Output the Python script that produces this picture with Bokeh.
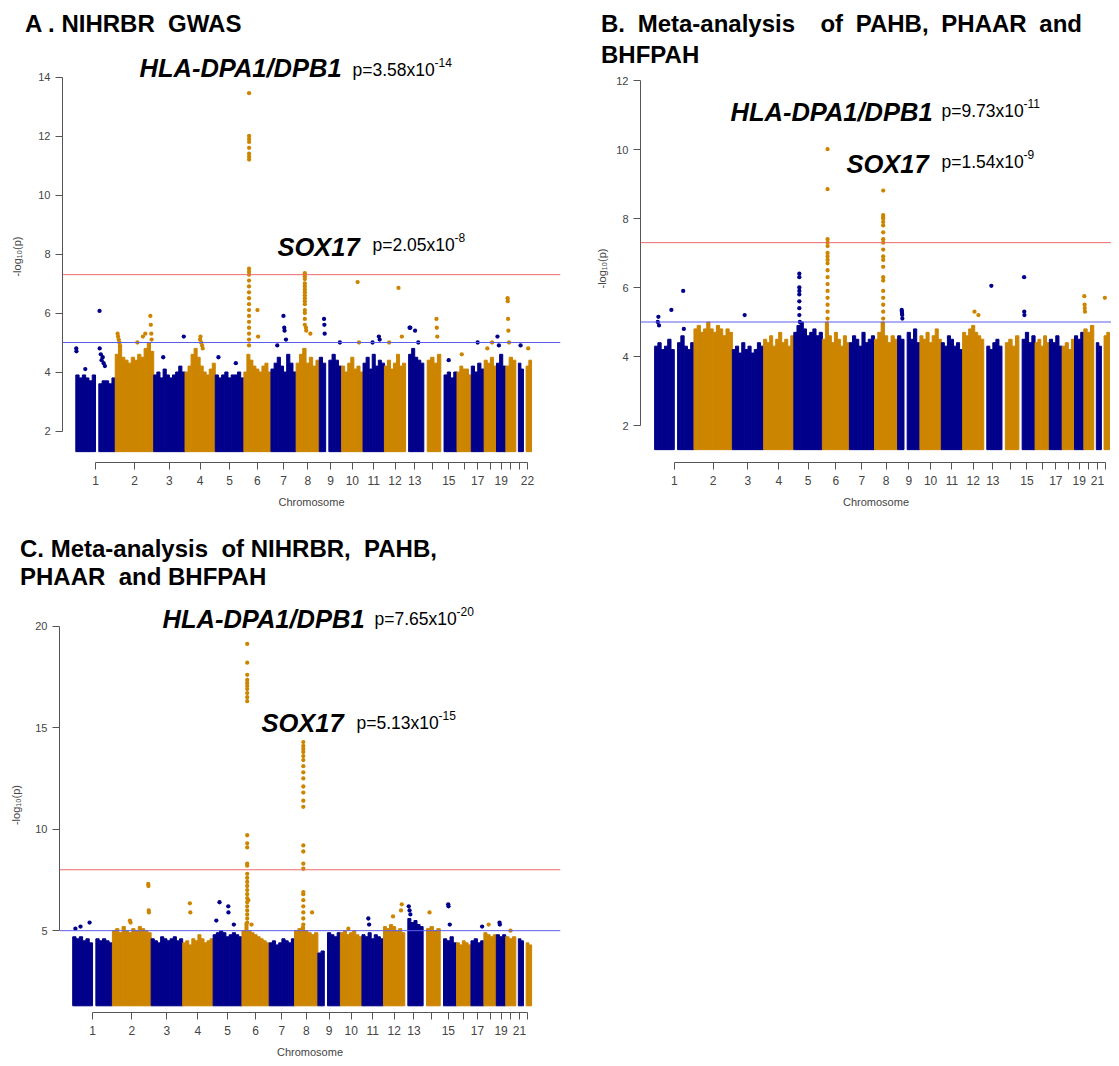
import numpy as np
from bokeh.plotting import figure
from bokeh.models import Span, Label, FixedTicker, ColumnDataSource, Div
from bokeh.layouts import row, column
from bokeh.embed import file_html
from bokeh.resources import INLINE

# ---------------- data ----------------
chrom_len_mb = [249.25, 243.2, 198.0, 191.15, 180.9, 171.1, 159.1, 146.4, 141.2, 135.5, 135.0,
                133.85, 115.2, 107.35, 102.5, 90.35, 81.2, 78.1, 59.1, 63.0, 48.1, 51.3]
tick_labels_a = ["1", "2", "3", "4", "5", "6", "7", "8", "9", "10", "11", "12", "13", "", "15", "",
                 "17", "", "19", "", "", "22"]
tick_labels_bc = ["1", "2", "3", "4", "5", "6", "7", "8", "9", "10", "11", "12", "13", "", "15", "",
                  "17", "", "19", "", "21", ""]
p_floor = 1.3          # -log10(0.05): lowest plotted value
suggestive_line = 5.0
gw_line_ab = 7.3
gw_line_c = 8.0
chrom_colors = ["#00008B", "#CD8500"]

# upper edge of the dense cloud of points along each chromosome (0 = no SNPs)
env_a = [
    [3.9, 3.8, 3.9, 3.8, 3.7, 3.9, 0, 3.6, 3.7, 3.7, 3.6, 3.8],
    [4.6, 4.9, 4.5, 4.4, 4.3, 4.5, 4.4, 4.6, 4.5, 4.8, 5.0, 4.7],
    [3.9, 4.0, 3.8, 4.1, 3.9, 3.8, 3.9, 4.0, 4.2, 4.0],
    [4.0, 4.2, 4.6, 4.8, 4.5, 4.2, 4.0, 3.9, 4.1, 4.3],
    [3.9, 3.8, 3.9, 4.0, 3.8, 3.9, 3.9, 4.0, 3.8],
    [4.0, 4.6, 4.4, 4.2, 4.1, 4.0, 4.2, 4.3, 4.0],
    [4.1, 4.3, 4.5, 4.2, 4.0, 4.6, 4.3, 4.0],
    [4.3, 4.6, 4.8, 4.3, 4.5, 4.2, 4.4],
    [4.5, 4.3, 0, 4.4, 4.6, 4.4, 4.2],
    [4.2, 4.0, 4.3, 4.5, 4.1, 4.2, 4.0],
    [4.3, 4.5, 4.1, 4.6, 4.2, 4.4, 4.3],
    [4.2, 4.4, 4.1, 4.3, 4.6, 4.2, 4.3],
    [0, 4.6, 4.8, 4.5, 4.4, 4.3],
    [0, 4.4, 4.5, 4.3, 4.6],
    [0, 3.9, 4.0, 3.8, 4.0],
    [4.0, 4.2, 4.1, 4.1, 3.9],
    [4.2, 4.0, 4.3, 4.1],
    [4.4, 4.3, 4.5, 4.2],
    [4.3, 4.6, 4.2],
    [4.2, 4.5, 4.4],
    [0, 4.3, 4.1],
    [0, 4.2, 4.4],
]
env_b = [
    [4.3, 4.4, 4.2, 4.3, 4.5, 4.2, 0, 4.4, 4.6, 4.3, 4.2, 4.4],
    [4.8, 4.9, 4.7, 4.8, 5.0, 4.8, 4.7, 4.9, 4.8, 4.6, 4.8, 4.7],
    [4.2, 4.3, 4.1, 4.4, 4.2, 4.3, 4.1, 4.2, 4.4, 4.3],
    [4.5, 4.4, 4.6, 4.3, 4.5, 4.7, 4.4, 4.5, 4.3, 4.6],
    [4.7, 4.9, 5.0, 4.8, 4.6, 4.7, 4.8, 4.6, 4.7],
    [4.5, 5.0, 4.6, 4.4, 4.7, 4.5, 4.3, 4.6, 4.4],
    [4.4, 4.6, 4.5, 4.3, 4.7, 4.4, 4.5, 4.6],
    [4.5, 4.7, 5.0, 4.6, 4.4, 4.6, 4.5],
    [4.6, 4.5, 0, 4.7, 4.5, 4.8, 4.4],
    [4.6, 4.5, 4.7, 4.4, 4.6, 4.8, 4.5],
    [4.4, 4.3, 4.6, 4.5, 4.3, 4.4, 4.2],
    [4.7, 4.6, 4.8, 4.9, 4.7, 4.6, 4.5],
    [0, 4.3, 4.2, 4.4, 4.5, 4.3],
    [0, 4.4, 4.5, 4.3, 4.6],
    [0, 4.5, 4.7, 4.4, 4.6],
    [4.4, 4.5, 4.3, 4.6, 4.4],
    [4.5, 4.4, 4.6, 4.3],
    [4.3, 4.4, 4.2, 4.5],
    [4.6, 4.5, 4.7],
    [4.8, 4.7, 4.9],
    [0, 4.4, 4.3],
    [0, 4.6, 4.7],
]
env_c = [
    [4.7, 4.6, 4.7, 4.5, 4.6, 4.4, 0, 4.6, 4.5, 4.6, 4.5, 4.4],
    [5.0, 5.1, 4.9, 5.2, 5.0, 4.9, 5.1, 5.0, 5.2, 5.1, 5.0, 4.9],
    [4.6, 4.5, 4.4, 4.7, 4.6, 4.5, 4.6, 4.7, 4.5, 4.6],
    [4.4, 4.5, 4.3, 4.6, 4.5, 4.8, 4.6, 4.4, 4.5, 4.6],
    [4.8, 4.9, 5.0, 4.9, 4.7, 4.8, 4.9, 4.8, 4.7],
    [5.0, 5.4, 5.0, 4.9, 4.8, 4.7, 4.6, 4.5, 4.4],
    [4.4, 4.5, 4.3, 4.4, 4.6, 4.5, 4.4, 4.6],
    [5.0, 5.1, 5.2, 5.0, 4.9, 4.8, 4.9],
    [3.9, 4.0, 0, 4.9, 4.8, 4.7, 4.9],
    [4.9, 5.0, 4.8, 4.9, 5.0, 4.8, 4.7],
    [4.8, 4.7, 4.9, 4.6, 4.8, 4.7, 4.6],
    [5.2, 5.1, 5.3, 5.2, 5.0, 5.1, 4.9],
    [0, 5.6, 5.4, 5.5, 5.3, 5.2],
    [0, 5.1, 5.2, 5.0, 5.1],
    [0, 4.6, 4.5, 4.7, 4.4],
    [4.4, 4.3, 4.5, 4.4, 4.3],
    [4.5, 4.6, 4.4, 4.5],
    [4.9, 4.8, 4.7, 4.8],
    [4.8, 4.7, 4.8],
    [4.7, 4.6, 4.7],
    [0, 4.6, 4.5],
    [0, 4.4, 4.3],
]

# individual SNPs standing above the cloud: chromosome, position (Mb), -log10(p)
a_pt_chrom = ([1] * 10 + [2] * 12 + [3] * 2 + [4] * 5 + [5] * 2 + [6] * 25 + [7] * 5 + [8] * 18 +
              [9] * 4 + [10] * 2 + [11] * 3 + [12] * 3 + [13] * 4 + [14] * 3 + [15, 16, 17] +
              [18] * 2 + [19] * 2 + [20] * 5 + [21, 22])
a_pt_pos = ([3, 4, 150, 151, 158, 163, 170, 176, 184, 60] +
            [15, 18, 22, 26, 30, 140, 175, 190, 222, 225, 228, 230] +
            [190, 60] + [95, 98, 102, 108, 112] + [20, 130] +
            [33.0] * 8 + [32.5] * 15 + [86, 90] +
            [79, 84, 86, 95, 40] +
            [55] * 15 + [62, 64, 90] +
            [30, 32, 34, 130] + [101, 110] + [100, 105, 60] + [89, 110, 30] +
            [25, 30, 60, 80] + [80, 82, 85] + [50, 30, 40] + [20, 50] + [6, 15] +
            [11, 12, 14, 16, 20] + [30, 30])
a_pt_val = ([4.8, 4.7, 6.07, 4.8, 4.6, 4.4, 4.5, 4.3, 4.2, 4.1] +
            [5.3, 5.2, 5.1, 5.0, 4.9, 5.0, 5.2, 5.3, 5.9, 5.6, 5.3, 5.1] +
            [5.2, 4.5] + [5.1, 5.2, 5.0, 4.9, 4.8] + [4.5, 4.3] +
            [13.45, 12.0, 11.9, 11.8, 11.6, 11.4, 11.3, 11.2] +
            [7.5, 7.4, 7.3, 7.1, 6.9, 6.7, 6.5, 6.3, 6.1, 5.9, 5.7, 5.5, 5.3, 5.1, 4.9] + [6.1, 5.2] +
            [5.9, 5.5, 5.4, 5.1, 4.9] +
            [7.35, 7.25, 7.15, 7.0, 6.9, 6.8, 6.7, 6.6, 6.5, 6.4, 6.3, 6.1, 6.0, 5.8, 5.6, 5.5, 5.4, 5.3] +
            [5.8, 5.6, 5.3, 5.0] + [7.05, 5.0] + [5.2, 5.1, 5.0] + [6.85, 5.2, 5.0] +
            [5.5, 5.5, 5.4, 5.0] + [5.8, 5.5, 5.2] + [4.4, 4.6, 5.0] + [4.8, 5.0] + [5.2, 4.9] +
            [6.5, 6.4, 5.8, 5.4, 5.0] + [4.9, 4.8])

b_pt_chrom = ([1] * 6 + [3] + [5] * 9 + [6] * 17 + [8] * 20 + [9] * 5 + [12] * 2 + [13] +
              [15] * 3 + [20] * 4 + [22])
b_pt_pos = ([20, 24, 28, 106, 181, 185] + [78] + [35] * 8 + [38] + [33] * 17 + [55] * 20 +
            [26, 27, 28, 29, 30] + [75, 100] + [48] + [33, 34, 35] + [3, 5, 6, 7] + [22])
b_pt_val = ([5.0, 5.15, 4.9, 5.35, 5.9, 4.8] + [5.2] +
            [6.4, 6.3, 6.0, 5.9, 5.8, 5.6, 5.4, 5.2, 5.0] +
            [10.01, 8.85, 7.4, 7.3, 7.2, 7.0, 6.9, 6.8, 6.7, 6.5, 6.3, 6.1, 5.9, 5.7, 5.5, 5.3, 5.1] +
            [8.81, 8.1, 8.05, 8.0, 7.9, 7.8, 7.6, 7.4, 7.3, 7.1, 6.9, 6.8, 6.6, 6.3, 6.2, 5.9, 5.7,
             5.5, 5.3, 5.1] +
            [5.35, 5.3, 5.25, 5.2, 5.1] + [5.3, 5.2] + [6.05] + [6.3, 5.3, 5.2] +
            [5.75, 5.5, 5.4, 5.3] + [5.7])

c_pt_chrom = ([1] * 3 + [2] * 6 + [4] * 2 + [5] * 5 + [6] * 30 + [8] * 25 + [10] + [11] * 2 +
              [12] * 3 + [13] * 3 + [14] + [15] * 3 + [17, 18] + [19] * 2 + [20])
c_pt_pos = ([17, 49, 106] + [110, 114, 225, 226, 228, 229] + [45, 48] + [40, 95, 96, 20, 130] +
            [33] * 28 + [40, 60] + [55] * 24 + [110] + [50] + [40, 45] + [60, 110, 115] +
            [25, 30, 35] + [40] + [50, 52, 60] + [70, 30] + [20, 22] + [30])
c_pt_val = ([5.1, 5.2, 5.4] + [5.5, 5.4, 7.3, 7.2, 6.0, 5.9] + [6.35, 5.9] +
            [6.4, 6.2, 5.9, 5.5, 5.3] +
            [19.12, 18.2, 17.6, 17.35, 17.2, 17.05, 16.9, 16.7, 16.5, 16.3, 9.7, 9.3, 9.1, 8.3, 8.2,
             7.8, 7.6, 7.4, 7.2, 7.0, 6.8, 6.6, 6.4, 6.2, 6.0, 5.8, 5.6, 5.4] + [6.5, 5.3] +
            [14.29, 14.1, 13.95, 13.8, 13.6, 13.4, 13.1, 12.8, 12.5, 12.1, 11.8, 11.4, 11.1, 9.2,
             8.9, 8.3, 8.05, 6.9, 6.8, 6.5, 6.2, 5.9, 5.6, 5.3] + [5.9] +
            [5.1] + [5.6, 5.3] + [5.7, 6.0, 6.3] + [6.2, 6.0, 5.8] + [5.9] + [6.3, 6.2, 5.3] +
            [5.2, 5.3] + [5.4, 5.3] + [5.0])

# ---------------- layout (page pixel geometry, origin = top-left of the page content) ----------------
GEOM_A = dict(fig_x=0, fig_y=48, width=593, height=487, f_left=62, f_right=560, f_top=50, f_bottom=462,
              x0=75.3, kx=0.1582, yref_px=430.5, yref_val=2, ky=29.5)
GEOM_B = dict(fig_x=593, fig_y=72, width=518, height=463, f_left=637, f_right=1111, f_top=74, f_bottom=462,
              x0=651.2, kx=0.1589, yref_px=425, yref_val=2, ky=34.5)
GEOM_C = dict(fig_x=0, fig_y=595, width=593, height=465, f_left=59, f_right=560, f_top=597, f_bottom=1018,
              x0=72.2, kx=0.1593, yref_px=935, yref_val=5, ky=20.6)

FONT = "Liberation Sans"
starts = np.concatenate([[0.0], np.cumsum(chrom_len_mb)[:-1]])
centers = [int(round(s + l / 2)) for s, l in zip(starts, chrom_len_mb)]


def add_text(p, g, text, px, py, size, style="normal", color="#000000"):
    p.add_layout(Label(x=px - g["f_left"], y=g["f_bottom"] - py, x_units="screen", y_units="screen",
                       text=text, text_font=FONT, text_font_size=f"{size}px", text_font_style=style,
                       text_color=color, text_baseline="middle", text_align="left"))


def title_div(lines, w, h, pad_left, pad_top, line_h, word_sp=0):
    html = "<br>".join(lines)
    style = (f"margin:0;padding-left:{pad_left}px;padding-top:{pad_top}px;"
             f"font-family:'{FONT}';font-weight:bold;font-size:24px;line-height:{line_h}px;"
             f"white-space:pre;color:#000;word-spacing:{word_sp}px;")
    return Div(text=f'<div style="{style}">{html}</div>', width=w, height=h, margin=0)


def build_panel(g, env, pt_chrom, pt_pos, pt_val, tick_labels, y_ticks, y_bounds, red_line, label_sb):
    xr = ((g["f_left"] - g["x0"]) / g["kx"], (g["f_right"] - g["x0"]) / g["kx"])
    yr = (g["yref_val"] - (g["f_bottom"] - g["yref_px"]) / g["ky"],
          g["yref_val"] + (g["yref_px"] - g["f_top"]) / g["ky"])
    p = figure(width=g["width"], height=g["height"], x_range=xr, y_range=yr, title=None,
               output_backend="svg", toolbar_location=None,
               min_border_left=g["f_left"] - g["fig_x"],
               min_border_right=g["fig_x"] + g["width"] - g["f_right"],
               min_border_top=g["f_top"] - g["fig_y"],
               min_border_bottom=g["fig_y"] + g["height"] - g["f_bottom"])
    p.outline_line_color = None
    p.xgrid.visible = False
    p.ygrid.visible = False

    L, R, T, C = [], [], [], []
    for ci, (s, ln, tops) in enumerate(zip(starts, chrom_len_mb, env)):
        w = ln / len(tops)
        for i, h in enumerate(tops):
            if h > 0:
                L.append(s + i * w)
                R.append(s + (i + 1) * w)
                T.append(h)
                C.append(chrom_colors[ci % 2])
    src = ColumnDataSource(dict(left=L, right=R, top=T, bottom=[p_floor] * len(L), color=C))
    p.quad(left="left", right="right", top="top", bottom="bottom", fill_color="color",
           line_color="color", line_width=1, source=src)

    px = [starts[c - 1] + pos for c, pos in zip(pt_chrom, pt_pos)]
    pc = [chrom_colors[(c - 1) % 2] for c in pt_chrom]
    psrc = ColumnDataSource(dict(x=px, y=pt_val, color=pc))
    p.scatter(x="x", y="y", size=4.3, fill_color="color", line_color=None, source=psrc)

    p.add_layout(Span(location=red_line, dimension="width", line_color="#F06A6A", line_width=1))
    p.add_layout(Span(location=suggestive_line, dimension="width", line_color="#5C5CEE", line_width=1))

    p.xaxis.ticker = FixedTicker(ticks=centers)
    p.xaxis.major_label_overrides = {c: lab for c, lab in zip(centers, tick_labels)}
    p.xaxis.bounds = (centers[0], centers[-1])
    p.xaxis.axis_label = "Chromosome"
    p.yaxis.ticker = FixedTicker(ticks=y_ticks)
    p.yaxis.bounds = y_bounds
    p.yaxis.axis_label = "-log\u2081\u2080(p)"
    for ax in (p.xaxis[0], p.yaxis[0]):
        ax.axis_line_color = "#555555"
        ax.major_tick_line_color = "#555555"
        ax.minor_tick_line_color = None
        ax.major_tick_out = 7
        ax.major_tick_in = 0
        ax.major_label_text_color = "#444444"
        ax.major_label_text_font = FONT
        ax.axis_label_text_font = FONT
        ax.axis_label_text_font_style = "normal"
        ax.axis_label_text_color = "#444444"
        ax.axis_label_text_font_size = "11px"
    p.xaxis.major_label_text_font_size = "12px"
    p.yaxis.major_label_text_font_size = "11px"
    p.xaxis.major_label_standoff = 6
    p.xaxis.axis_label_standoff = 8
    p.yaxis.axis_label_standoff = label_sb
    return p


pa = build_panel(GEOM_A, env_a, a_pt_chrom, a_pt_pos, a_pt_val, tick_labels_a,
                 [2, 4, 6, 8, 10, 12, 14], (2, 14), gw_line_ab, 12)
pb = build_panel(GEOM_B, env_b, b_pt_chrom, b_pt_pos, b_pt_val, tick_labels_bc,
                 [2, 4, 6, 8, 10, 12], (2, 12), gw_line_ab, 5)
pc = build_panel(GEOM_C, env_c, c_pt_chrom, c_pt_pos, c_pt_val, tick_labels_bc,
                 [5, 10, 15, 20], (5, 20), gw_line_c, 10)

# panel titles
ta = title_div(["A . NIHRBR  GWAS"], 593, 48, 25, 10, 28)
tb = title_div(["B. Meta-analysis  of PAHB, PHAAR and", "BHFPAH"], 518, 72, 8, 8, 31, 6)
tc = title_div(["C. Meta-analysis  of NIHRBR,  PAHB,", "PHAAR  and BHFPAH"], 593, 60, 20, 0, 28)

# gene annotations
add_text(pa, GEOM_A, "HLA-DPA1/DPB1", 139, 67, 25.5, "bold italic")
add_text(pa, GEOM_A, "p=3.58x10", 352, 69, 17.5)
add_text(pa, GEOM_A, "-14", 434, 62, 12)
add_text(pa, GEOM_A, "SOX17", 277, 246, 25.5, "bold italic")
add_text(pa, GEOM_A, "p=2.05x10", 372, 244, 17.5)
add_text(pa, GEOM_A, "-8", 454, 237, 12)

add_text(pb, GEOM_B, "HLA-DPA1/DPB1", 727, 111, 25.5, "bold italic")
add_text(pb, GEOM_B, "p=9.73x10", 938, 110, 17.5)
add_text(pb, GEOM_B, "-11", 1020, 103, 12)
add_text(pb, GEOM_B, "SOX17", 843, 163, 25.5, "bold italic")
add_text(pb, GEOM_B, "p=1.54x10", 938, 161, 17.5)
add_text(pb, GEOM_B, "-9", 1020, 154, 12)

add_text(pc, GEOM_C, "HLA-DPA1/DPB1", 162, 624, 25.5, "bold italic")
add_text(pc, GEOM_C, "p=7.65x10", 374, 624, 17.5)
add_text(pc, GEOM_C, "-20", 456, 617, 12)
add_text(pc, GEOM_C, "SOX17", 261, 728, 25.5, "bold italic")
add_text(pc, GEOM_C, "p=5.13x10", 356, 728, 17.5)
add_text(pc, GEOM_C, "-15", 438, 721, 12)

layout = column(row(column(ta, pa), column(tb, pb)), column(tc, pc))
open("out.html", "w").write(file_html(layout, INLINE))
